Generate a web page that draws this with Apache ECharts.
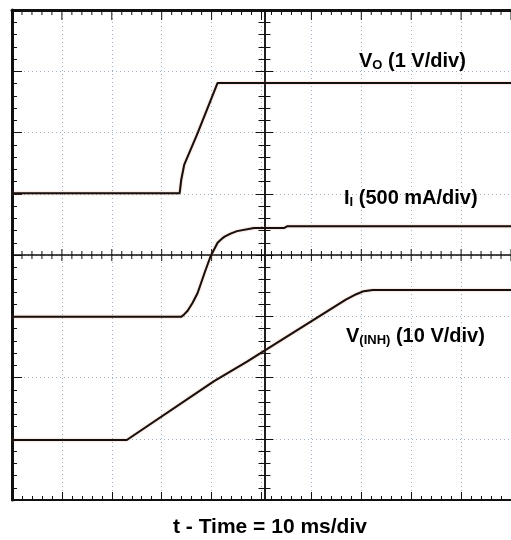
<!DOCTYPE html>
<html>
<head>
<meta charset="utf-8">
<script src="https://cdn.jsdelivr.net/npm/echarts@6/dist/echarts.min.js"></script>
<style>html,body{margin:0;padding:0;background:#fff;}#c{width:511px;height:540px;}</style>
</head>
<body>
<div id="c"></div>
<script>
// Positions in screen divisions relative to the screen centre (x: 10 ms/div)
const voX = [-5, -1.64, -1.61, -1.55, -1.28, -0.88, 5];
const voY = [1.01, 1.01, 1.22, 1.47, 1.99, 2.81, 2.81];
const iiX = [-5, -1.61, -1.55, -1.48, -1.38, -1.28, -1.14, -1.02, -0.88, -0.80, -0.74, -0.62, -0.49, -0.15, 0.45, 0.52, 5];
const iiY = [-1.01, -1.01, -0.97, -0.91, -0.78, -0.62, -0.29, -0.02, 0.20, 0.26, 0.30, 0.35, 0.39, 0.44, 0.44, 0.47, 0.47];
const vinhX = [-5, -2.70, -0.95, -0.29, 1.69, 1.90, 2.05, 2.23, 5];
const vinhY = [-3.02, -3.02, -2.06, -1.74, -0.73, -0.64, -0.59, -0.57, -0.57];
const xTitle = 't - Time = 10 ms/div';
const labels = [
  {main: 'V', sub: 'O', rest: ' (1 V/div)'},
  {main: 'I', sub: 'I', rest: ' (500 mA/div)'},
  {main: 'V', sub: '(INH)', rest: ' (10 V/div)'}
];

const zip = (xs, ys) => xs.map((x, i) => [x, ys[i]]);
const chart = echarts.init(document.getElementById('c'), null, {renderer: 'canvas'});
const F = '"Liberation Sans", Arial, sans-serif';
const gridDot = {show: true, lineStyle: {color: '#9db2c4', type: [1, 3], width: 1}};
const blk = '#111';
const GW = 505, GH = 490;
const G = {left: 12, top: 10, width: GW, height: GH};

// horizontal tick-mark positions (graticule decoration, 5 per division)
const hTicks = [];
for (let k = -25; k <= 25; k++) hTicks.push([k / 5]);

function tick(inside, len) { return {show: true, inside, length: len, lineStyle: {color: blk, width: 1}}; }
function minor(len) { return {show: true, splitNumber: 5, length: len, lineStyle: {color: blk, width: 1}}; }
const axLine = (w) => ({show: true, onZero: false, lineStyle: {color: blk, width: w}});
function xa(gi, opts) {
  return Object.assign({
    type: 'value', gridIndex: gi, min: -5, max: 5, interval: 1,
    axisLabel: {show: false}, splitLine: {show: false}
  }, opts);
}
function ya(gi, opts) {
  return Object.assign({
    type: 'value', gridIndex: gi, min: -4, max: 4, interval: 1,
    axisLabel: {show: false}, splitLine: {show: false}
  }, opts);
}
const lineSeries = (name, data, w) => ({
  name, type: 'line', data, showSymbol: false, symbol: 'none', xAxisIndex: 0, yAxisIndex: 0,
  lineStyle: {color: blk, width: w, shadowColor: 'rgba(235,110,60,0.55)', shadowBlur: 2},
  z: 10
});
const richSt = {
  m: {fontSize: 20, fontWeight: 'bold', fontFamily: F, color: '#000'},
  s: {fontSize: 13, fontWeight: 'bold', fontFamily: F, color: '#000', padding: [9, 0, 0, 0]}
};
const lbl = (l, x, y) => ({
  type: 'text', left: x, top: y, z: 20,
  style: {text: '{m|' + l.main + '}{s|' + l.sub + '}{m|' + l.rest + '}', rich: richSt}
});

function tickItem(params, api) {
  const x = api.value(0);
  const major = Math.abs(x - Math.round(x)) < 1e-6;
  const top = api.coord([x, 4]);
  const mid = api.coord([x, 0]);
  const st = {stroke: blk, lineWidth: 1};
  const tl = major ? 10 : 5, ml = major ? 6 : 4;
  return {type: 'group', children: [
    {type: 'line', shape: {x1: top[0], y1: top[1], x2: top[0], y2: top[1] + tl}, style: st},
    {type: 'line', shape: {x1: mid[0], y1: mid[1] - ml, x2: mid[0], y2: mid[1] + ml}, style: st}
  ]};
}

chart.setOption({
  animation: false,
  grid: [G, G, G],
  xAxis: [
    xa(0, {position: 'bottom', axisLine: axLine(2), axisTick: tick(true, 8), minorTick: minor(4), splitLine: gridDot}),
    xa(1, {position: 'top', axisLine: axLine(3), axisTick: {show: false}}),
    xa(2, {position: 'bottom', offset: -GH / 2, axisLine: axLine(1.5), axisTick: {show: false}})
  ],
  yAxis: [
    ya(0, {position: 'left', axisLine: axLine(3), axisTick: tick(true, 10), minorTick: minor(5), splitLine: gridDot}),
    ya(1, {position: 'left', offset: -GW / 2, axisLine: axLine(1.5), axisTick: tick(true, 9), minorTick: minor(6)}),
    ya(2, {position: 'left', offset: -GW / 2, axisLine: axLine(1.5), axisTick: tick(false, 9), minorTick: minor(6)})
  ],
  series: [
    {type: 'custom', xAxisIndex: 0, yAxisIndex: 0, data: hTicks, renderItem: tickItem, silent: true, z: 5},
    lineSeries('VO', zip(voX, voY), 2),
    lineSeries('II', zip(iiX, iiY), 2),
    lineSeries('VINH', zip(vinhX, vinhY), 2)
  ],
  graphic: [
    lbl(labels[0], 359, 51),
    lbl(labels[1], 344, 188),
    lbl(labels[2], 346, 326),
    {type: 'text', left: 173, top: 517, z: 20,
     style: {text: xTitle, fontSize: 21, fontWeight: 'bold', fontFamily: F, fill: '#000'}}
  ]
});
</script>
</body>
</html>
